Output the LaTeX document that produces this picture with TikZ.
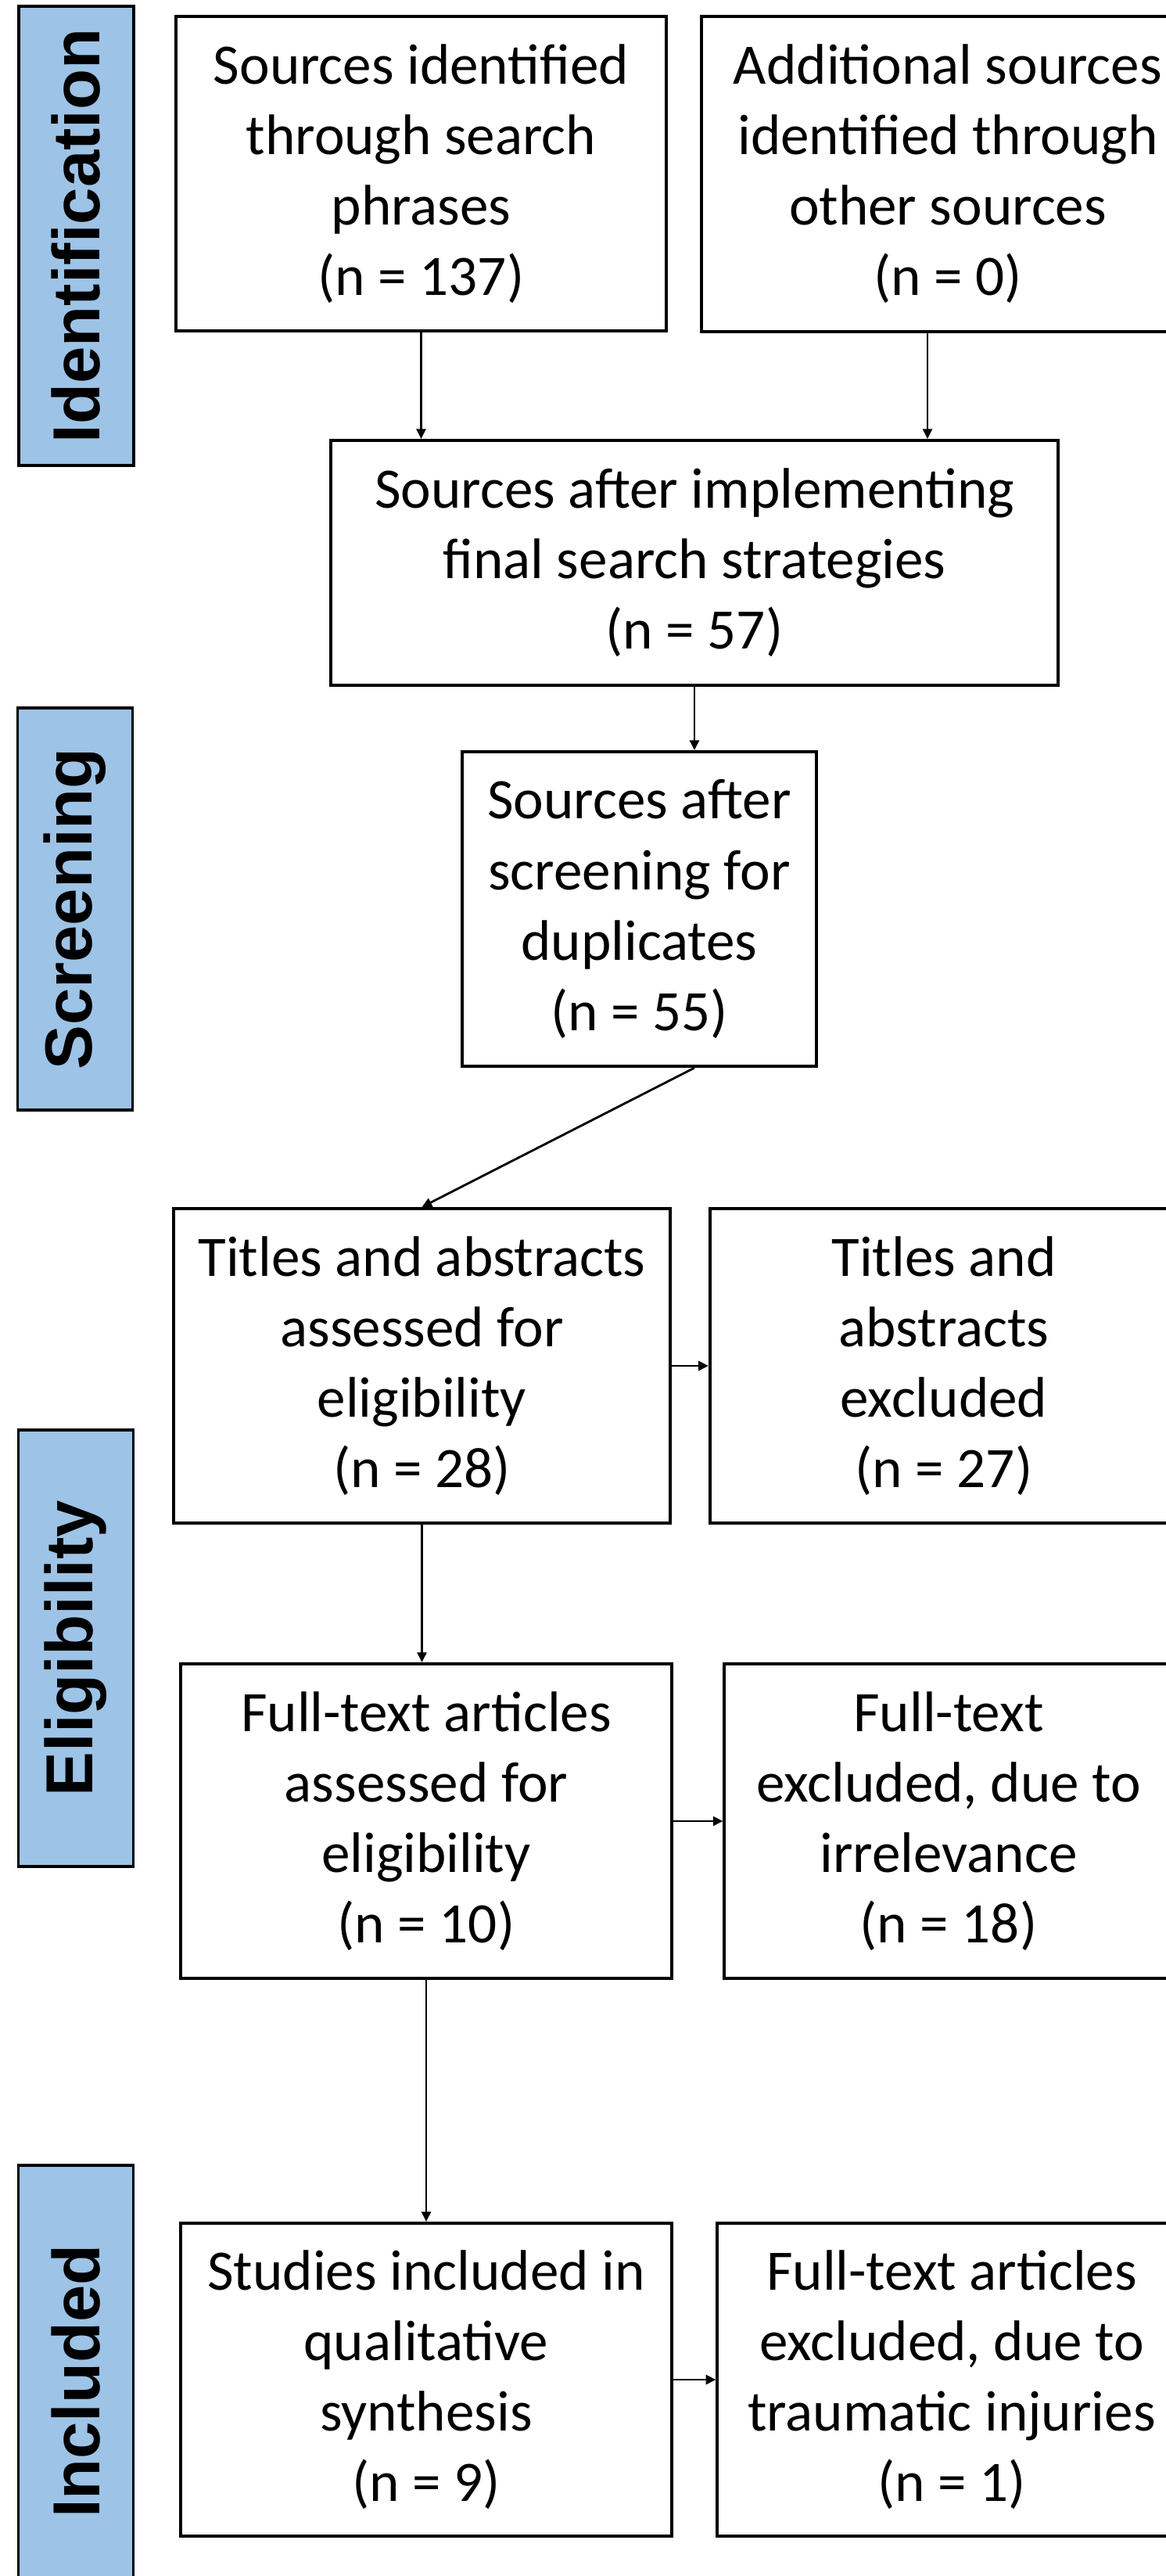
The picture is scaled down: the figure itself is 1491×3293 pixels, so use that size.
\documentclass[tikz,border=0pt]{standalone}
\usepackage{fontspec}
\setmainfont{Carlito}
\newfontfamily\phasefont{Liberation Sans}
\usetikzlibrary{arrows.meta}
\definecolor{phaseblue}{RGB}{157,195,230}
\tikzset{
  box/.style={draw, line width=1.1pt, align=center, inner sep=0pt,
    font=\fontsize{20.8}{25.6}\selectfont},
  phase/.style={draw, line width=1.1pt, fill=phaseblue, rotate=90,
    minimum height=1.47cm, inner sep=0pt,
    font=\phasefont\bfseries\fontsize{24.2}{29}\selectfont},
  flow/.style={-{Triangle[length=3.6pt,width=3.4pt]}, line width=0.8pt}
}
\begin{document}
\begin{tikzpicture}[x=0.01cm, y=-0.01cm]
\useasboundingbox (0,0) rectangle (1491,3293);
\node[phase, minimum width=5.87cm] (ident) at (97.5,301.5) {Identification};
\node[phase, minimum width=5.14cm] (screen) at (96,1162) {Screening};
\node[phase, minimum width=5.58cm] (elig) at (97,2107) {Eligibility};
\node[phase, minimum width=5.52cm] (incl) at (97,3044) {Included};

\node[box, minimum width=6.27cm, minimum height=4.02cm] (search) at (538.5,222)
  {Sources identified\\through search\\phrases\\(n = 137)};
\node[box, minimum width=6.30cm, minimum height=4.03cm] (other) at (1212,222.5)
  {Additional sources\\identified through\\other sources\\(n = 0)};
\node[box, minimum width=9.30cm, minimum height=3.13cm] (final) at (888,719.5)
  {Sources after implementing\\final search strategies\\(n = 57)};
\node[box, minimum width=4.53cm, minimum height=4.02cm] (dupl) at (817.5,1162)
  {Sources after\\screening for\\duplicates\\(n = 55)};
\node[box, minimum width=6.35cm, minimum height=4.02cm] (titles) at (539.5,1746)
  {Titles and abstracts\\assessed for\\eligibility\\(n = 28)};
\node[box, minimum width=5.98cm, minimum height=4.02cm] (titlesex) at (1207,1746)
  {Titles and\\abstracts\\excluded\\(n = 27)};
\node[box, minimum width=6.28cm, minimum height=4.02cm] (fulltext) at (545,2328)
  {Full-text articles\\assessed for\\eligibility\\(n = 10)};
\node[box, minimum width=5.73cm, minimum height=4.02cm] (irrel) at (1213,2328)
  {Full-text\\excluded, due to\\irrelevance\\(n = 18)};
\node[box, minimum width=6.28cm, minimum height=4.00cm] (studies) at (545,3042)
  {Studies included in\\qualitative\\synthesis\\(n = 9)};
\node[box, minimum width=5.99cm, minimum height=4.00cm] (trauma) at (1217,3042)
  {Full-text articles\\excluded, due to\\traumatic injuries\\(n = 1)};

\draw[flow] (search.south) -- (search.south |- final.north);
\draw[flow] ([xshift=-0.26cm]other.south) -- ([xshift=-0.26cm]other.south |- final.north);
\draw[flow] (final.south) -- (final.south |- dupl.north);
\draw[flow] (final.south |- dupl.south) -- (titles.north);
\draw[flow] (titles.east) -- (titlesex.west);
\draw[flow] (titles.south) -- (titles.south |- fulltext.north);
\draw[flow] (fulltext.east) -- (fulltext.east -| irrel.west);
\draw[flow] (fulltext.south) -- (studies.north);
\draw[flow] (studies.east) -- (trauma.west);
\end{tikzpicture}
\end{document}
